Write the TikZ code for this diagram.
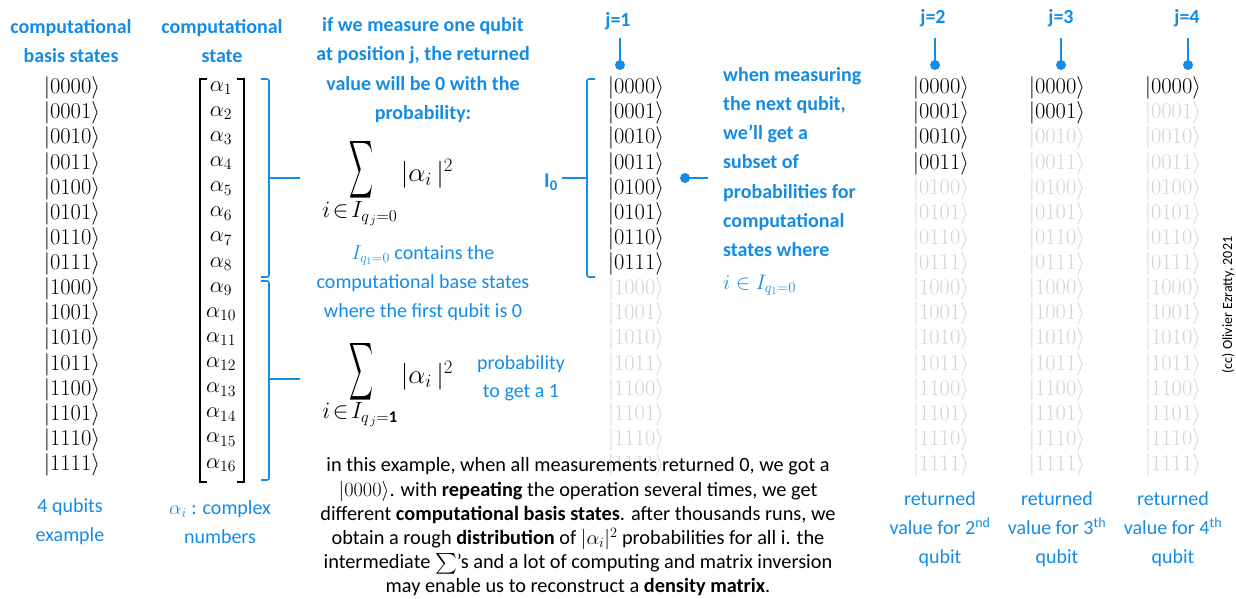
\RequirePackage{fix-cm}
\documentclass[tikz,border=0pt]{standalone}
\usepackage{fontspec}
\setmainfont{Carlito}
\usepackage{amsmath}
\usepackage{graphicx}
\usetikzlibrary{calc}
\definecolor{qblue}{RGB}{20,140,230}
\definecolor{qgray}{RGB}{212,212,212}
\begin{document}
\begin{tikzpicture}[x=1pt,y=-1pt,
  hdr/.style={font=\fontsize{20}{29.3}\selectfont\bfseries, text=qblue, align=center, inner sep=0pt},
  note/.style={font=\fontsize{20}{29}\selectfont, text=qblue, align=center, inner sep=0pt},
  ket/.style={font=\fontsize{22.5}{24}\selectfont, inner sep=0pt},
  bigmath/.style={font=\fontsize{27}{30}\selectfont, inner sep=0pt},
  submath/.style={font=\fontsize{23.5}{26}\selectfont, inner sep=0pt},
  qbrace/.style={draw=qblue, line width=1.6pt, rounded corners=2pt},
  qline/.style={draw=qblue, line width=1.6pt},
  jline/.style={draw=qblue, line width=2.4pt},
  dot/.style={circle, fill=qblue, inner sep=0pt, minimum size=10pt},
  mbrack/.style={draw=black, line width=1.6pt},
  para/.style={font=\fontsize{20.3}{24.2}\selectfont, align=center, inner sep=0pt}
]
\useasboundingbox (0,0) rectangle (1236,598);

% headers
\node[hdr] (h0) at (71,41) {computational\\basis states};
\node[hdr] (h1) at (222,41) {computational\\state};
\node[hdr] (h2) at (423,70) {if we measure one qubit\\at position j, the returned\\value will be 0 with the\\probability:};

% ket columns
\foreach \col/\cx/\nb in {c0/72/16, c1/636/8, c2/941/4, c3/1057/2, c4/1173/1} {
  \foreach \s [count=\k from 0] in {0000,0001,0010,0011,0100,0101,0110,0111,1000,1001,1010,1011,1100,1101,1110,1111} {
    \ifnum\k<\nb\relax\def\kc{black}\else\def\kc{qgray}\fi
    \node[ket, text=\kc] (\col-\k) at (\cx, 88+25.13*\k) {$|\s\rangle$};
  }
}

% matrix of amplitudes
\foreach \k in {1,...,16} {
  \node[ket] (al\k) at (221, 88+25.13*\k-25.13) {$\alpha_{\k}$};
}
\coordinate (mtl) at (200,79);
\coordinate (mbl) at (200,482);
\coordinate (mtr) at (244,79);
\coordinate (mbr) at (244,482);
\draw[mbrack] ($(mtl)+(7,0)$) -- (mtl) -- (mbl) -- ($(mbl)+(7,0)$);
\draw[mbrack] ($(mtr)+(-7,0)$) -- (mtr) -- (mbr) -- ($(mbr)+(-7,0)$);

% braces right of matrix
\coordinate (b0t) at (261,79);
\coordinate (b0m) at (269,178);
\coordinate (b0b) at (261,277);
\coordinate (b0e) at (300,178);
\draw[qbrace] (b0t) -| (b0m) |- (b0b);
\draw[qline] (b0m) -- (b0e);
\coordinate (b1t) at (261,281);
\coordinate (b1m) at (269,379);
\coordinate (b1b) at (261,480);
\coordinate (b1e) at (300,379);
\draw[qbrace] (b1t) -| (b1m) |- (b1b);
\draw[qline] (b1m) -- (b1e);

% sums
\node[inner sep=0pt, font=\fontsize{20}{24}\selectfont] (sig0) at (361,170) {\scalebox{0.8}[1.95]{$\displaystyle\sum$}};
\node[bigmath] (abs0) at (427,174) {$|\alpha_i\,|^2$};
\node[submath] (sub0) at (360,214) {$i\!\in\! I_{q_{\,j}=0}$};
\node[inner sep=0pt, font=\fontsize{20}{24}\selectfont] (sig1) at (361,372) {\scalebox{0.8}[1.95]{$\displaystyle\sum$}};
\node[bigmath] (abs1) at (427,376) {$|\alpha_i\,|^2$};
\node[submath] (sub1) at (360,415) {$i\!\in\! I_{q_{\,j}=\mathbf{1}}$};

\node[note] (n0) at (423,283) {$I_{q_1=0}$ contains the\\computational base states\\where the first qubit is 0};
\node[note, font=\fontsize{20}{28}\selectfont] (n1) at (521,378) {probability\\to get a 1};

% bottom labels
\node[note] (n2) at (70,522) {4 qubits\\example};
\node[note] (n3) at (220,522) {$\alpha_i$ : complex\\numbers};
\node[note] (n4) at (940,529) {returned\\value for 2\textsuperscript{nd}\\qubit};
\node[note] (n5) at (1057,529) {returned\\value for 3\textsuperscript{th}\\qubit};
\node[note] (n6) at (1173,529) {returned\\value for 4\textsuperscript{th}\\qubit};

% I0 brace
\coordinate (i0t) at (595,79);
\coordinate (i0m) at (587,178);
\coordinate (i0b) at (595,277);
\coordinate (i0e) at (562,178);
\draw[qbrace] (i0t) -| (i0m) |- (i0b);
\draw[qline] (i0m) -- (i0e);
\node[inner sep=0pt, text=qblue, font=\fontsize{21}{24}\selectfont\bfseries] (i0) at (551,182) {I\textsubscript{0}};

% j markers
\foreach \n/\jx/\lx/\ly in {1/620/618/21, 2/935/933/18, 3/1061/1061/18, 4/1188/1187/18} {
  \node[hdr] (j\n) at (\lx,\ly) {j=\n};
  \coordinate (jt\n) at (\jx,38);
  \node[dot] (jd\n) at (\jx,65) {};
  \draw[jline] (jt\n) -- (jd\n.center);
}

% next-qubit note
\node[dot] (nd) at (685,178) {};
\coordinate (ne) at (708,178);
\draw[jline] (nd.center) -- (ne);
\node[hdr, align=left, anchor=west] (n7) at (723,162) {when measuring\\the next qubit,\\we’ll get a\\subset of\\probabilities for\\computational\\states where};
\node[submath, font=\fontsize{21}{24}\selectfont, text=qblue, anchor=west] (n8) at (723,285) {$i \in I_{q_1=0}$};

% bottom paragraph
\node[para] (p) at (578,527) {in this example, when all measurements returned 0, we got a\\
$|0000\rangle$. with \textbf{repeating} the operation several times, we get\\
different \textbf{computational basis states}. after thousands runs, we\\
obtain a rough \textbf{distribution} of $|\alpha_i|^2$ probabilities for all i. the\\
intermediate $\sum$’s and a lot of computing and matrix inversion\\
may enable us to reconstruct a \textbf{density matrix}.};

% copyright
\node[rotate=90, inner sep=0pt, font=\fontsize{14}{16}\selectfont] (cc) at (1228,305) {(cc) Olivier Ezratty, 2021};
\end{tikzpicture}
\end{document}
